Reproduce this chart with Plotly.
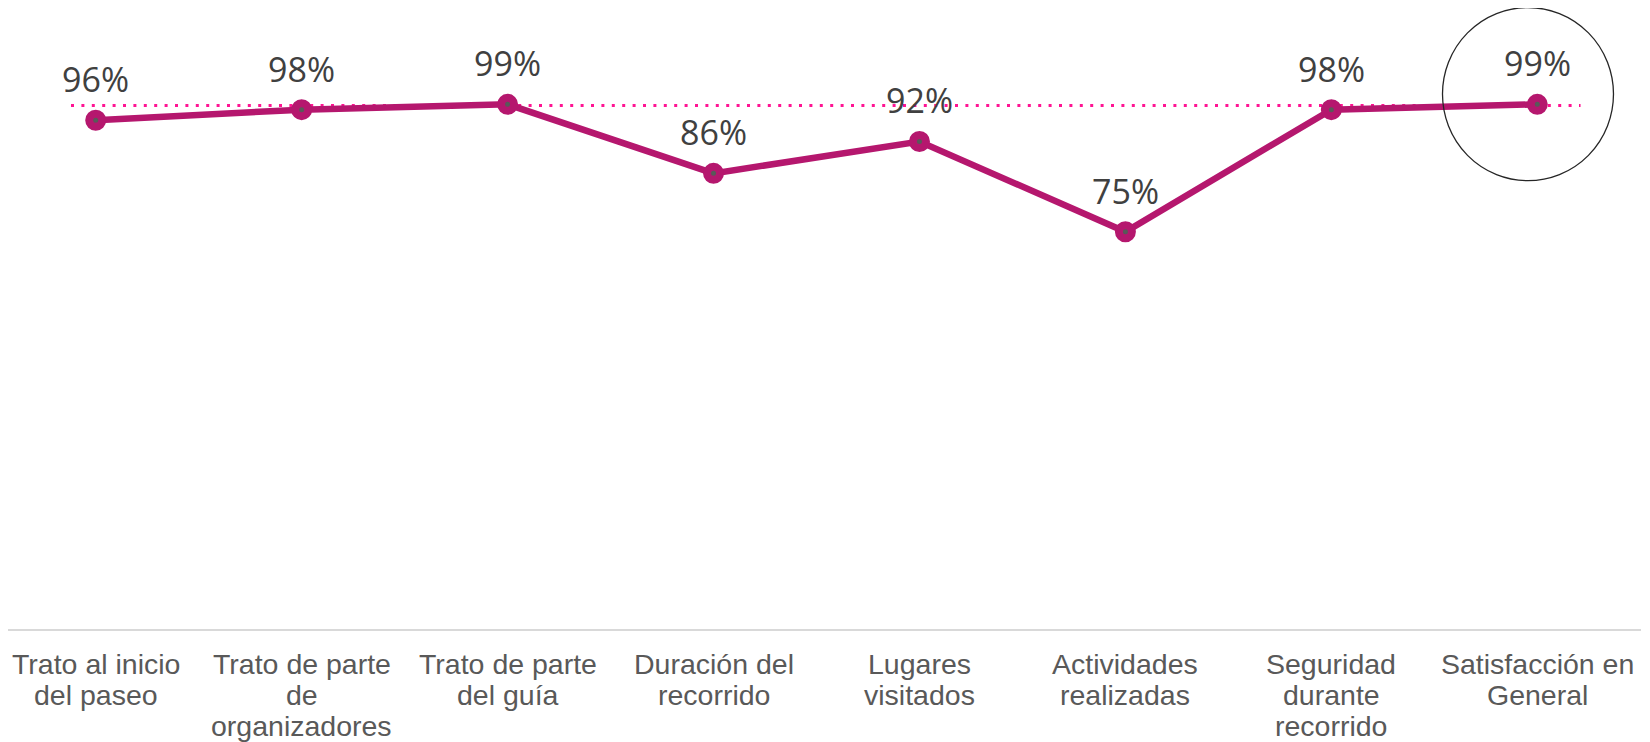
import plotly.graph_objects as go

categories = [
    "Trato al inicio<br>del paseo",
    "Trato de parte<br>de<br>organizadores",
    "Trato de parte<br>del guía",
    "Duración del<br>recorrido",
    "Lugares<br>visitados",
    "Actividades<br>realizadas",
    "Seguridad<br>durante<br>recorrido",
    "Satisfacción en<br>General",
]
values = [96, 98, 99, 86, 92, 75, 98, 99]
value_labels = ["96%", "98%", "99%", "86%", "92%", "75%", "98%", "99%"]
reference_value = 98.8
reference_span = [-0.12, 7.21]
highlight_index = 7

LINE_COLOR = "#B5176E"
DOT_COLOR = "#FF1493"
xs = list(range(len(categories)))

fig = go.Figure()

# dotted reference line
fig.add_trace(go.Scatter(
    x=reference_span, y=[reference_value, reference_value],
    mode="lines", line=dict(color=DOT_COLOR, width=3, dash="3px,7.4px"),
    hoverinfo="skip", showlegend=False, cliponaxis=False,
))

# main series
fig.add_trace(go.Scatter(
    x=xs, y=values, mode="lines+markers",
    line=dict(color=LINE_COLOR, width=6.5),
    marker=dict(size=13, color="#595959", line=dict(color=LINE_COLOR, width=8)),
    showlegend=False, cliponaxis=False,
))

annotations = []
for i, (v, t) in enumerate(zip(values, value_labels)):
    annotations.append(dict(
        x=i, y=v, xref="x", yref="y", text=t, showarrow=False,
        xanchor="center", yanchor="middle", yshift=41,
        font=dict(family="Open Sans", size=34, color="#404040"),
    ))

for i, cat in enumerate(categories):
    for j, line in enumerate(cat.split("<br>")):
        annotations.append(dict(
            x=i, y=0, xref="x", yref="paper", text=line, showarrow=False,
            xanchor="center", yanchor="middle", yshift=-33.5 - 31 * j,
            font=dict(family="Liberation Sans, Arial", size=28.5, color="#595959"),
        ))

fig.add_shape(
    type="circle", xref="x", yref="y",
    xsizemode="pixel", ysizemode="pixel",
    xanchor=highlight_index, yanchor=values[highlight_index],
    x0=-94.8, x1=76.2, y0=-76.4, y1=96.8,
    line=dict(color="#262626", width=1.3), fillcolor="rgba(0,0,0,0)",
)

fig.update_layout(
    width=1642, height=734,
    margin=dict(l=0, r=9, t=0, b=112),
    paper_bgcolor="white", plot_bgcolor="white",
    annotations=annotations,
    xaxis=dict(
        range=[-0.4259, 7.5036], showticklabels=False, showgrid=False,
        zeroline=False, showline=False, ticks="",
    ),
    yaxis=dict(
        range=[0, 117.14], showticklabels=False, showgrid=False,
        zeroline=True, zerolinecolor="#D9D9D9", zerolinewidth=2,
        showline=False, ticks="",
    ),
)

fig.write_html("out.html")
